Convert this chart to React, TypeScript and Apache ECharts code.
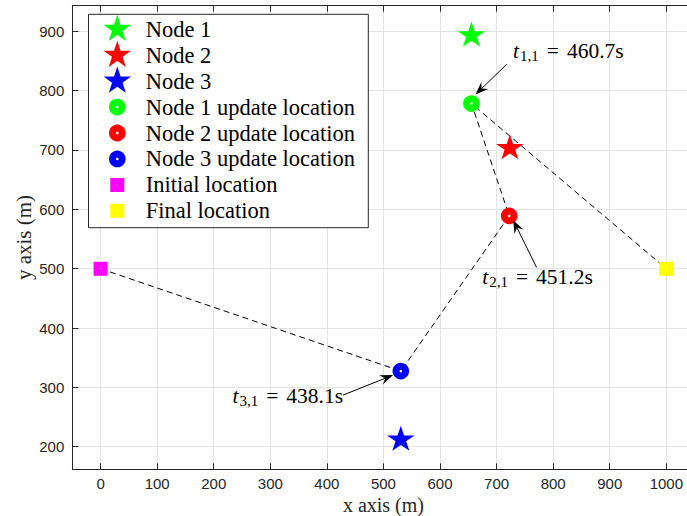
import React, { useEffect, useRef } from 'react';
import * as echarts from 'echarts';

// Node positions (m)
const nodeNames = ['Node 1', 'Node 2', 'Node 3'];
const nodeX = [655.6, 723.5, 530.7];
const nodeY = [893.1, 703.0, 212.0];

// Where the aerial collector updates each node (m) and when (s)
const updateX = [655.6, 722.3, 530.7];
const updateY = [778.3, 589.0, 327.5];
const updateTimes = [460.7, 451.2, 438.1];

// Trajectory endpoints and visiting order (node indices)
const initialLocation = [0, 500];
const finalLocation = [1000, 500];
const visitOrder = [2, 1, 0];

// Axis extents
const xRange = [-50, 1050];
const yRange = [162, 943.1];

// Styles
const nodeColors = ['#00ff00', '#ff0000', '#0000ff'];
const initialColor = '#ff00ff';
const finalColor = '#ffff00';
const axisColor = '#262626';
const gridColor = '#e3e3e3';
const serif = '"Liberation Serif", "Times New Roman", serif';
const sans = '"Liberation Sans", Arial, sans-serif';

function starPoints(cx: number, cy: number, R: number): number[][] {
  const r = R * 0.382;
  const pts: number[][] = [];
  for (let k = 0; k < 10; k++) {
    const a = -Math.PI / 2 + (k * Math.PI) / 5;
    const rad = k % 2 === 0 ? R : r;
    pts.push([cx + rad * Math.cos(a), cy + rad * Math.sin(a)]);
  }
  return pts;
}

const starSymbol =
  'path://' +
  starPoints(0, 0, 100)
    .map((p, i) => (i ? 'L' : 'M') + p[0].toFixed(2) + ' ' + p[1].toFixed(2))
    .join(' ') +
  ' Z';

// Annotation arrows, offsets in px from the annotated point
const annotationLayout = [
  { tip: [4, -9], tail: [35.3, -39.3], text: [41.6, -52.1], align: 'left' },
  { tip: [4, 4.3], tail: [27.4, 51.6], text: [-27, 61], align: 'left' },
  { tip: [-7.7, 4], tail: [-57.7, 24], text: [-57.7, 24.8], align: 'right' },
];

const plainNumber = (v: number) => String(v);

export default function App() {
  const ref = useRef<HTMLDivElement>(null);

  useEffect(() => {
    document.body.style.margin = '0';
    const chart = echarts.init(ref.current!, null, { renderer: 'svg' });

    const starSeries = nodeNames.map((name, i) => ({
      type: 'scatter',
      name,
      data: [[nodeX[i], nodeY[i]]],
      symbol: starSymbol,
      symbolKeepAspect: true,
      symbolSize: [27.6, 26.2],
      symbolOffset: [0, -1.3],
      itemStyle: { color: nodeColors[i], opacity: 1 },
      z: 3,
      silent: true,
    }));

    const updateSeries = nodeNames.map((name, i) => ({
      type: 'scatter',
      name: name + ' update location',
      data: [[updateX[i], updateY[i]]],
      symbol: 'circle',
      symbolSize: 9.6,
      itemStyle: { color: '#ffffff', borderColor: nodeColors[i], borderWidth: 7, opacity: 1 },
      z: 3,
      silent: true,
    }));

    const endpointSeries = [
      { name: 'Initial location', point: initialLocation, color: initialColor },
      { name: 'Final location', point: finalLocation, color: finalColor },
    ].map((e) => ({
      type: 'scatter',
      name: e.name,
      data: [e.point],
      symbol: 'rect',
      symbolSize: 7.5,
      itemStyle: { color: '#ffffff', borderColor: e.color, borderWidth: 6.5, opacity: 1 },
      z: 3,
      silent: true,
    }));

    const pathData = [
      initialLocation,
      ...visitOrder.map((i) => [updateX[i], updateY[i]]),
      finalLocation,
    ];

    const gridAxisCommon = {
      axisLine: { show: true, onZero: false, lineStyle: { color: axisColor, width: 1 } },
      axisTick: { show: true, inside: true, length: 6, lineStyle: { color: axisColor } },
    };

    chart.setOption({
      animation: false,
      backgroundColor: '#ffffff',
      grid: {
        left: 72.3,
        top: 5.7,
        width: 622.3,
        height: 463.6,
        containLabel: false,
        outerBoundsMode: 'none',
      },
      xAxis: [
        {
          type: 'value',
          min: xRange[0],
          max: xRange[1],
          minInterval: 100,
          maxInterval: 100,
          position: 'bottom',
          ...gridAxisCommon,
          axisLabel: {
            color: axisColor,
            fontFamily: sans,
            fontSize: 15,
            lineHeight: 15,
            margin: 7,
            showMinLabel: false,
            showMaxLabel: false,
            formatter: plainNumber,
          },
          splitLine: { show: true, lineStyle: { color: gridColor, width: 1 } },
          name: 'x axis (m)',
          nameLocation: 'middle',
          nameGap: 26.5,
          nameMoveOverlap: false,
          nameTextStyle: { fontFamily: serif, fontSize: 20, lineHeight: 18, color: axisColor },
        },
        {
          type: 'value',
          min: xRange[0],
          max: xRange[1],
          minInterval: 100,
          maxInterval: 100,
          position: 'top',
          ...gridAxisCommon,
          axisLabel: { show: false },
          splitLine: { show: false },
        },
      ],
      yAxis: [
        {
          type: 'value',
          min: yRange[0],
          max: yRange[1],
          minInterval: 100,
          maxInterval: 100,
          position: 'left',
          ...gridAxisCommon,
          axisLabel: {
            color: axisColor,
            fontFamily: sans,
            fontSize: 15,
            margin: 8,
            showMinLabel: false,
            showMaxLabel: false,
            formatter: plainNumber,
          },
          splitLine: { show: true, lineStyle: { color: gridColor, width: 1 } },
          name: 'y axis (m)',
          nameLocation: 'middle',
          nameGap: 38,
          nameRotate: 90,
          nameMoveOverlap: false,
          nameTextStyle: { fontFamily: serif, fontSize: 21, color: axisColor },
        },
        {
          type: 'value',
          min: yRange[0],
          max: yRange[1],
          minInterval: 100,
          maxInterval: 100,
          position: 'right',
          ...gridAxisCommon,
          axisLabel: { show: false },
          splitLine: { show: false },
        },
      ],
      series: [
        {
          type: 'line',
          name: 'trajectory',
          data: pathData,
          symbol: 'none',
          lineStyle: { color: '#000000', width: 1, type: [6, 4] },
          z: 1,
          silent: true,
        },
        ...starSeries,
        ...updateSeries,
        ...endpointSeries,
      ],
    });

    // Legend box
    const legendLeft = 88.5;
    const legendTop = 14.3;
    const legendW = 279.8;
    const legendH = 213.4;
    const rowY0 = 29.2;
    const rowGap = 25.95;
    const markerX = 117.3;
    const labelX = 145.7;

    const legendItems: any[] = [
      {
        type: 'rect',
        shape: { x: legendLeft, y: legendTop, width: legendW, height: legendH },
        style: { fill: '#ffffff', stroke: axisColor, lineWidth: 1 },
        z: 100,
      },
    ];

    const legendLabels = [
      ...nodeNames,
      ...nodeNames.map((n) => n + ' update location'),
      'Initial location',
      'Final location',
    ];

    legendLabels.forEach((label, i) => {
      const cy = rowY0 + i * rowGap;
      if (i < 3) {
        legendItems.push({
          type: 'polygon',
          shape: { points: starPoints(markerX, cy, 14.5) },
          style: { fill: nodeColors[i] },
          z: 101,
        });
      } else if (i < 6) {
        legendItems.push({
          type: 'circle',
          shape: { cx: markerX, cy, r: 4.8 },
          style: { fill: '#ffffff', stroke: nodeColors[i - 3], lineWidth: 7 },
          z: 101,
        });
      } else {
        legendItems.push({
          type: 'rect',
          shape: { x: markerX - 3.75, y: cy - 3.75, width: 7.5, height: 7.5 },
          style: {
            fill: '#ffffff',
            stroke: i === 6 ? initialColor : finalColor,
            lineWidth: 6.5,
          },
          z: 101,
        });
      }
      legendItems.push({
        type: 'text',
        x: labelX,
        y: cy,
        style: {
          text: label,
          fill: '#000000',
          font: `22.5px ${serif}`,
          textAlign: 'left',
          textVerticalAlign: 'middle',
        },
        z: 101,
      });
    });

    // Arrows pointing at each update location
    const annotationItems: any[] = [];
    nodeNames.forEach((_, i) => {
      const p = chart.convertToPixel({ gridIndex: 0 }, [updateX[i], updateY[i]]) as number[];
      const lay = annotationLayout[i];
      const tip = [p[0] + lay.tip[0], p[1] + lay.tip[1]];
      const tail = [p[0] + lay.tail[0], p[1] + lay.tail[1]];
      const dx = tip[0] - tail[0];
      const dy = tip[1] - tail[1];
      const len = Math.hypot(dx, dy);
      const ux = dx / len;
      const uy = dy / len;
      const nx = -uy;
      const ny = ux;
      const L = 13;
      const W = 5;
      const notch = 8.5;
      annotationItems.push({
        type: 'line',
        shape: { x1: tail[0], y1: tail[1], x2: tip[0] - ux * notch, y2: tip[1] - uy * notch },
        style: { stroke: '#000000', lineWidth: 1 },
        z: 50,
      });
      annotationItems.push({
        type: 'polygon',
        shape: {
          points: [
            tip,
            [tip[0] - ux * L + nx * W, tip[1] - uy * L + ny * W],
            [tip[0] - ux * notch, tip[1] - uy * notch],
            [tip[0] - ux * L - nx * W, tip[1] - uy * L - ny * W],
          ],
        },
        style: { fill: '#000000' },
        z: 50,
      });
      const sub = `${i + 1},1`;
      annotationItems.push({
        type: 'text',
        x: p[0] + lay.text[0],
        y: p[1] + lay.text[1],
        style: {
          text: `{t|t}{s|${sub}}{e|=}{n|${updateTimes[i].toFixed(1)}s}`,
          textAlign: lay.align,
          textVerticalAlign: 'middle',
          rich: {
            t: { fontFamily: serif, fontStyle: 'italic', fontSize: 21.5, fill: '#000' },
            s: { fontFamily: serif, fontSize: 15, padding: [10, 0, 0, 1], fill: '#000' },
            e: { fontFamily: serif, fontSize: 21.5, padding: [0, 8, 0, 8], fill: '#000' },
            n: { fontFamily: serif, fontSize: 21.5, fill: '#000' },
          },
        },
        z: 50,
      });
    });

    chart.setOption({ graphic: [...legendItems, ...annotationItems] });

    return () => chart.dispose();
  }, []);

  return (
    <div
      ref={ref}
      style={{ width: 687, height: 516, position: 'absolute', left: 0, top: 0, background: '#fff' }}
    />
  );
}
